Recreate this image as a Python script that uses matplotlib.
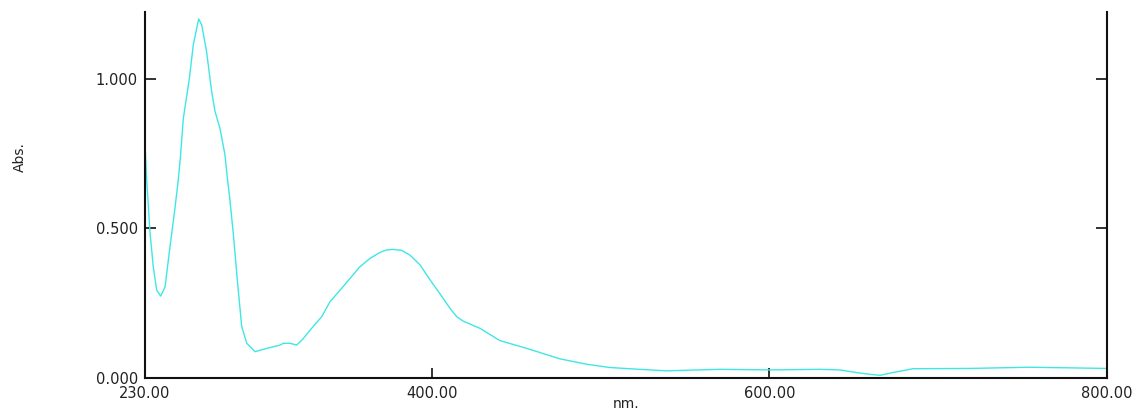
import matplotlib
matplotlib.use("Agg")
import matplotlib.pyplot as plt

# wavelength (nm) and absorbance
nm = [230.0, 231.0, 233.0, 234.9, 236.9, 239.3, 241.9, 244.8, 247.4, 249.7,
      251.1, 252.7, 256.3, 258.6, 261.8, 263.6, 266.5, 269.5, 271.5, 274.4,
      277.4, 278.8, 280.0, 282.3, 284.7, 287.3, 290.3, 295.2, 302.1, 310.0,
      311.9, 316.0, 319.9, 323.5, 327.8, 334.7, 339.6, 345.0, 351.5, 357.0,
      363.3, 369.2, 373.0, 377.1, 382.0, 387.0, 393.0, 398.9, 405.0, 410.7,
      414.7, 418.6, 428.5, 440.3, 456.2, 475.9, 491.7, 505.5, 523.0, 539.0,
      570.7, 600.0, 630.0, 641.8, 651.7, 660.0, 665.5, 673.0, 685.0, 718.8,
      754.0, 800.0]
absorb = [0.786, 0.662, 0.484, 0.372, 0.294, 0.274, 0.305, 0.439, 0.551, 0.662,
          0.746, 0.868, 1.002, 1.114, 1.201, 1.181, 1.091, 0.958, 0.891, 0.835,
          0.746, 0.668, 0.612, 0.484, 0.328, 0.172, 0.116, 0.088, 0.099, 0.110,
          0.116, 0.116, 0.110, 0.130, 0.160, 0.205, 0.255, 0.290, 0.333, 0.370,
          0.400, 0.420, 0.428, 0.430, 0.427, 0.411, 0.378, 0.328, 0.280, 0.233,
          0.205, 0.190, 0.166, 0.125, 0.099, 0.064, 0.046, 0.035, 0.029, 0.024,
          0.029, 0.027, 0.029, 0.027, 0.018, 0.012, 0.009, 0.018, 0.031, 0.032,
          0.036, 0.032]

xticks = [230, 400, 600, 800]
xlabels = ["230.00", "400.00", "600.00", "800.00"]
yticks = [0.0, 0.5, 1.0]
ylabels = ["0.000", "0.500", "1.000"]

plt.rcParams['font.family'] = ['DejaVu Sans']

fig = plt.figure(figsize=(11.35, 4.15), dpi=100)
ax = fig.add_axes([145 / 1135, 37 / 415, 962 / 1135, 366 / 415])

ax.plot(nm, absorb, color="#3fe6e6", lw=1.0)

ax.set_xlim(230, 800)
ax.set_ylim(0, 1.224)
ax.set_xticks(xticks)
ax.set_xticklabels(xlabels)
ax.set_yticks(yticks)
ax.set_yticklabels(ylabels)

ax.spines["top"].set_visible(False)
for s in ["left", "right", "bottom"]:
    ax.spines[s].set_linewidth(1.5)
    ax.spines[s].set_color("#111111")

ax.tick_params(axis="y", direction="in", length=8, width=1.3, right=True,
               labelsize=10.5, pad=5, colors="#222222")
ax.tick_params(axis="x", direction="in", length=7, width=1.3,
               labelsize=10.5, pad=6, colors="#222222")

ax.set_xlabel("nm.", fontsize=10, labelpad=-3, color="#222222")
fig.text(20 / 1135, 1 - 157 / 415, "Abs.", rotation=90, ha="center",
         va="center", fontsize=10, color="#222222")

plt.savefig("out.png", dpi=100)
